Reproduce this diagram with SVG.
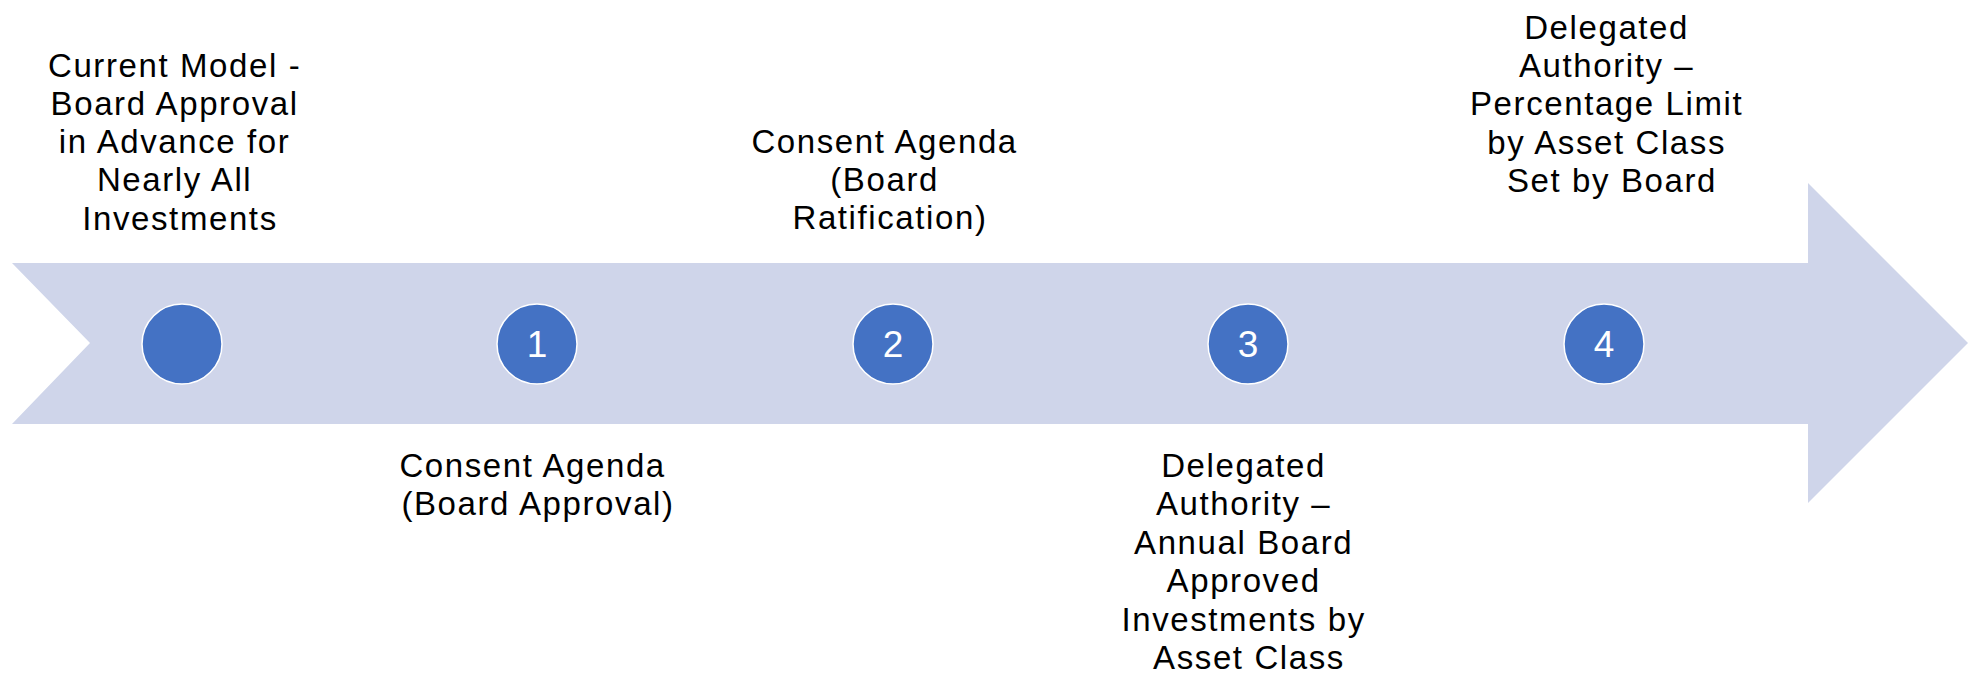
<svg xmlns="http://www.w3.org/2000/svg" width="1977" height="676" viewBox="0 0 1977 676">
  <style>
    .lbl { font-family: "Liberation Sans", Arial, sans-serif; font-size: 33px; letter-spacing: 1.6px; fill: #000; text-anchor: middle; }
    .dot { fill: #4472C4; stroke: #ffffff; stroke-width: 1.5; }
    .num { font-family: "Liberation Sans", Arial, sans-serif; font-size: 37px; fill: #ffffff; text-anchor: middle; }
  </style>
  <rect width="1977" height="676" fill="#ffffff"/>
  <!-- timeline arrow -->
  <g id="connectors">
    <polygon points="12,263 1808,263 1808,183 1968,343 1808,503 1808,424 12,424 90,343" fill="#CFD5EA"/>
  </g>
  <g id="node-current">
    <circle class="dot" cx="182" cy="344" r="40"/>
    <text class="lbl">
      <tspan x="180" y="77">Current Model -</tspan>
      <tspan x="180" y="115">Board Approval</tspan>
      <tspan x="180" y="153">in Advance for</tspan>
      <tspan x="180" y="191">Nearly All</tspan>
      <tspan x="180" y="230">Investments</tspan>
    </text>
  </g>
  <g id="node-1">
    <circle class="dot" cx="537" cy="344" r="40"/>
    <text class="num" x="537" y="357">1</text>
    <text class="lbl">
      <tspan x="538" y="477">Consent Agenda</tspan>
      <tspan x="538" y="515">(Board Approval)</tspan>
    </text>
  </g>
  <g id="node-2">
    <circle class="dot" cx="893" cy="344" r="40"/>
    <text class="num" x="893" y="357">2</text>
    <text class="lbl">
      <tspan x="890" y="153">Consent Agenda</tspan>
      <tspan x="890" y="191">(Board</tspan>
      <tspan x="890" y="229">Ratification)</tspan>
    </text>
  </g>
  <g id="node-3">
    <circle class="dot" cx="1248" cy="344" r="40"/>
    <text class="num" x="1248" y="357">3</text>
    <text class="lbl">
      <tspan x="1249" y="477">Delegated</tspan>
      <tspan x="1249" y="515">Authority –</tspan>
      <tspan x="1249" y="554">Annual Board</tspan>
      <tspan x="1249" y="592">Approved</tspan>
      <tspan x="1249" y="631">Investments by</tspan>
      <tspan x="1249" y="669">Asset Class</tspan>
    </text>
  </g>
  <g id="node-4">
    <circle class="dot" cx="1604" cy="344" r="40"/>
    <text class="num" x="1604" y="357">4</text>
    <text class="lbl">
      <tspan x="1612" y="39">Delegated</tspan>
      <tspan x="1612" y="77">Authority –</tspan>
      <tspan x="1612" y="115">Percentage Limit</tspan>
      <tspan x="1612" y="154">by Asset Class</tspan>
      <tspan x="1612" y="192">Set by Board</tspan>
    </text>
  </g>
</svg>
